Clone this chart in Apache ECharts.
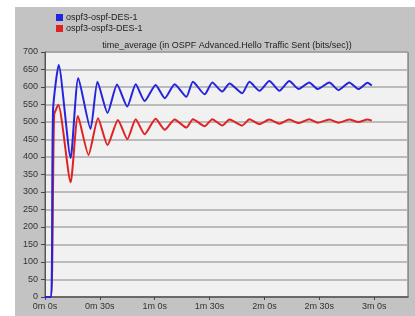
<!DOCTYPE html>
<html>
<head>
<meta charset="utf-8">
<script src="https://cdn.jsdelivr.net/npm/echarts@6/dist/echarts.min.js"></script>
<style>
  html, body { margin: 0; padding: 0; background: #ffffff; }
  #chart { position: absolute; left: 15px; top: 7px; width: 400px; height: 309px; background: #c3c3c3; }
</style>
</head>
<body>
<div id="chart"></div>
<script>
// seconds
var blueTime = [0, 3.3, 4.4, 7.5, 14.0, 18.2, 24.9, 28.7, 34.2, 39.4, 45.0, 49.6, 54.5, 60.5, 65.5, 70.9, 77.3, 80.9, 87.3, 91.5, 96.9, 100.9, 107.8, 111.8, 117.3, 122.7, 128.2, 133.6, 138.7, 144.5, 149.1, 155.5, 160.5, 166.4, 171.4, 176.4, 178.7];
var blueVals = [0, 0, 534, 663, 397, 626, 480, 615, 526, 607, 544, 608, 560, 606, 568, 608, 572, 615, 579, 613, 587, 610, 582, 615, 589, 617, 589, 617, 594, 613, 594, 613, 591, 613, 594, 612, 604];

var redTime = [0, 3.3, 5.0, 7.3, 14.0, 18.0, 23.8, 29.0, 34.2, 39.9, 45.0, 49.6, 54.5, 60.5, 65.5, 70.9, 77.3, 80.9, 87.3, 91.5, 96.9, 100.9, 107.8, 111.8, 117.3, 122.7, 128.2, 133.6, 138.7, 144.5, 149.1, 155.5, 160.5, 166.4, 171.4, 176.4, 178.7];
var redVals = [0, 0, 520, 549, 328, 517, 406, 511, 434, 506, 451, 508, 465, 509, 478, 507, 484, 508, 488, 508, 490, 507, 490, 508, 494, 507, 495, 507, 497, 508, 498, 507, 498, 507, 500, 507, 504];

var xTicks = [0, 30, 60, 90, 120, 150, 180];

function pairs(t, v) {
    var out = [];
    for (var i = 0; i < t.length; i++) out.push([t[i], v[i]]);
    return out;
}

var myChart = echarts.init(document.getElementById('chart'));

option = {
    animation: false,
    textStyle: { fontFamily: 'Liberation Sans, Arial, sans-serif' },
    title: {
        text: 'time_average (in OSPF Advanced.Hello Traffic Sent (bits/sec))',
        left: 212, top: 34, textAlign: 'center', padding: 0,
        textStyle: { fontSize: 9, fontWeight: 'normal', color: '#222' }
    },
    legend: {
        orient: 'vertical', left: 36, top: 1,
        icon: 'rect', itemWidth: 7, itemHeight: 7, itemGap: 2,
        textStyle: { fontSize: 9, color: '#222', padding: [0, 0, 0, -2] },
        data: ['ospf3-ospf-DES-1', 'ospf3-ospf3-DES-1']
    },
    grid: {
        left: 30, right: 7, top: 45, bottom: 19,
        show: true, backgroundColor: '#f1f1f1', borderColor: '#5a5a5a', borderWidth: 1
    },
    xAxis: {
        type: 'value', min: 0, max: 198.5,
        axisLine: { show: true, lineStyle: { color: '#555', width: 1.5 } },
        axisTick: { show: true, length: 3, lineStyle: { color: '#444' }, customValues: xTicks },
        axisLabel: {
            fontSize: 9, color: '#333', margin: 5, customValues: xTicks,
            formatter: function (v) { return Math.floor(v / 60) + 'm ' + (v % 60) + 's'; }
        },
        splitLine: { show: false }
    },
    yAxis: {
        type: 'value', min: 0, max: 700, interval: 50,
        axisLine: { show: true, lineStyle: { color: '#555' } },
        axisTick: { show: true, length: 4, lineStyle: { color: '#444' } },
        axisLabel: { fontSize: 9, color: '#333', margin: 7 },
        splitLine: { show: true, lineStyle: { color: '#a8a8a8', width: 1.5 } }
    },
    series: [
        {
            name: 'ospf3-ospf3-DES-1', type: 'line', z: 2, smooth: 0.2,
            showSymbol: false, color: '#e02222',
            lineStyle: { width: 2, color: '#e02222' },
            data: pairs(redTime, redVals)
        },
        {
            name: 'ospf3-ospf-DES-1', type: 'line', z: 3, smooth: 0.2,
            showSymbol: false, color: '#2424e0',
            lineStyle: { width: 2, color: '#2424e0' },
            data: pairs(blueTime, blueVals)
        }
    ]
};

myChart.setOption(option);
</script>
</body>
</html>
